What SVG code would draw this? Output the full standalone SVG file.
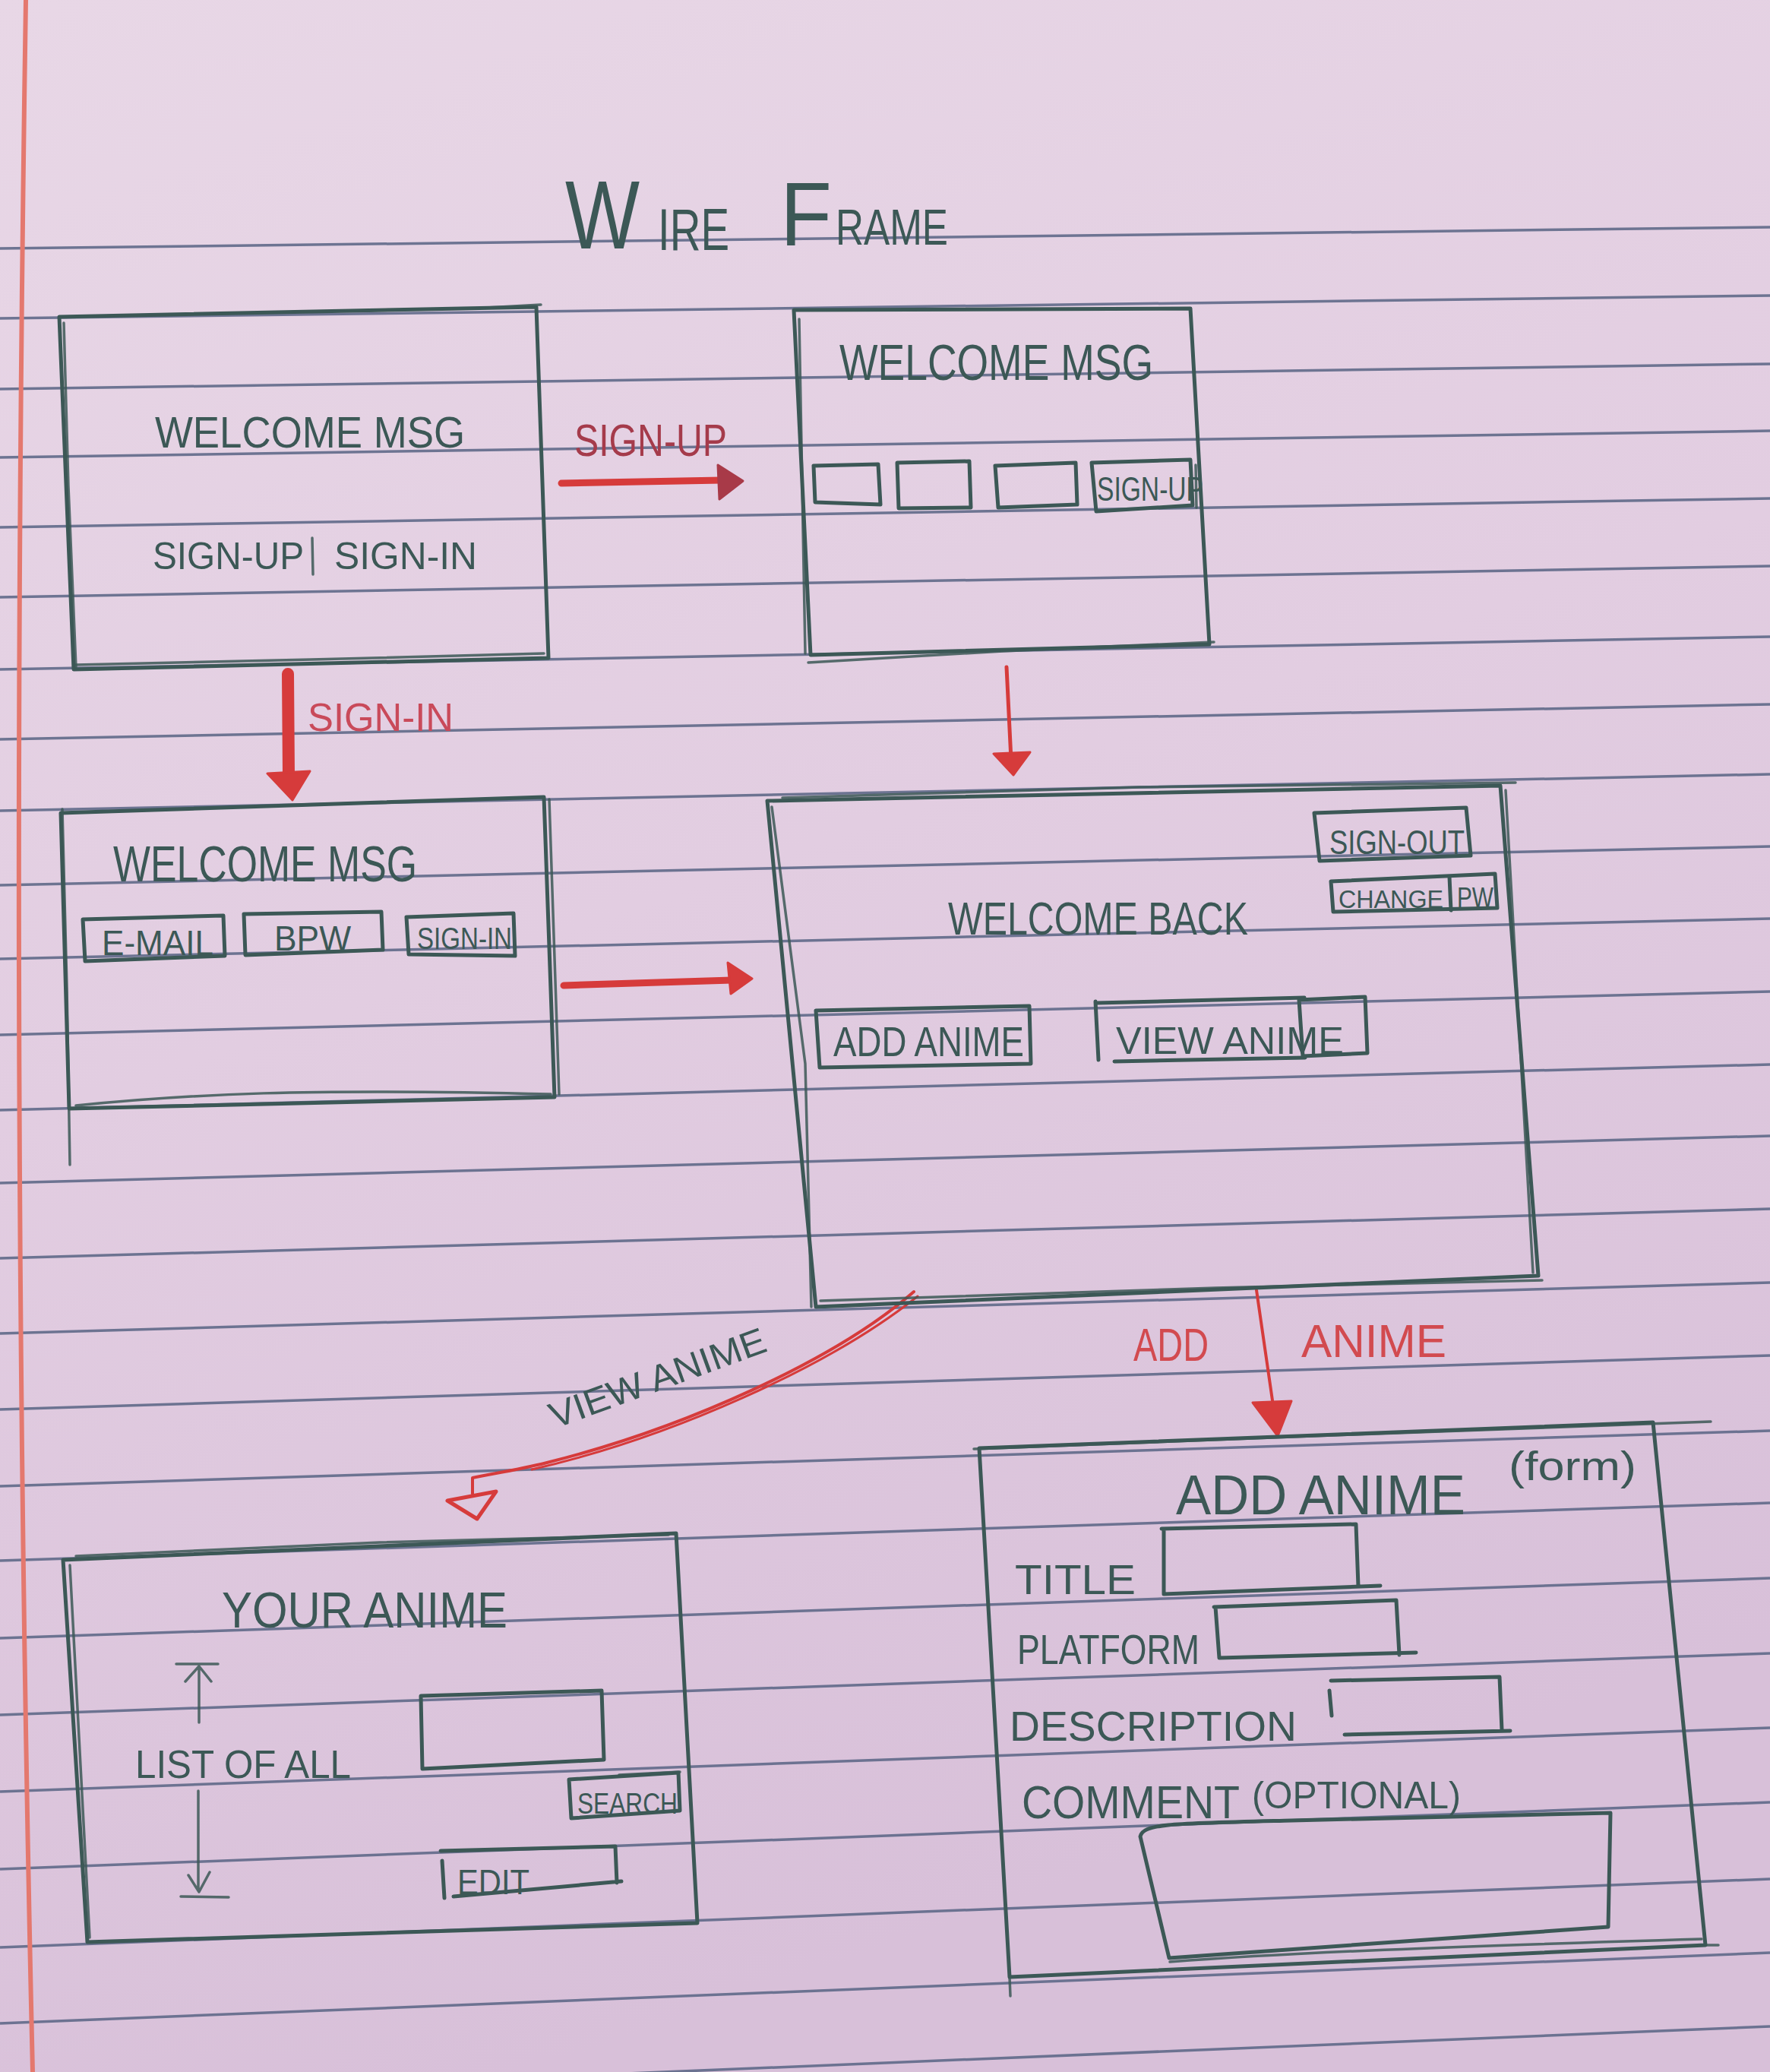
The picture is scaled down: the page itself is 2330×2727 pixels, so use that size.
<svg xmlns="http://www.w3.org/2000/svg" width="2330" height="2727" viewBox="0 0 2330 2727">
<defs>
<linearGradient id="paperGrad" x1="0" y1="0" x2="0.3" y2="1">
<stop offset="0" stop-color="#e8d7e6"/>
<stop offset="0.5" stop-color="#e2cde1"/>
<stop offset="1" stop-color="#d8c0d9"/>
</linearGradient>
<style>
.rule{fill:none;stroke:#5f6988;stroke-width:3.5;opacity:0.9}
.ink{fill:none;stroke:#3c5856;stroke-width:5;stroke-linecap:round;stroke-linejoin:round}
.ink2{fill:none;stroke:#3c5856;stroke-width:3.5;stroke-linecap:round;stroke-linejoin:round;opacity:0.85}
.t{font-family:"Liberation Sans","DejaVu Sans",sans-serif;fill:#3c5856}
.redline{fill:none;stroke:#d63b3b;stroke-linecap:round;stroke-linejoin:round}
.redfill{fill:#d63b3b;stroke:#d63b3b;stroke-width:3;stroke-linejoin:round}
.rt{font-family:"Liberation Sans","DejaVu Sans",sans-serif;fill:#d24a4f}
</style>
</defs>

<g id="paper">
<rect x="0" y="0" width="2330" height="2727" fill="url(#paperGrad)"/>
<path class="rule" d="M0 327 L2330 299"/>
<path class="rule" d="M0 419 L2330 389"/>
<path class="rule" d="M0 512 L2330 479"/>
<path class="rule" d="M0 602 L2330 567"/>
<path class="rule" d="M0 694 L2330 656"/>
<path class="rule" d="M0 786 L2330 745"/>
<path class="rule" d="M0 881 L2330 838"/>
<path class="rule" d="M0 973 L2330 927"/>
<path class="rule" d="M0 1067 L2330 1019"/>
<path class="rule" d="M0 1165 L2330 1114"/>
<path class="rule" d="M0 1262 L2330 1209"/>
<path class="rule" d="M0 1362 L2330 1305"/>
<path class="rule" d="M0 1461 L2330 1401"/>
<path class="rule" d="M0 1557 L2330 1495"/>
<path class="rule" d="M0 1656 L2330 1591"/>
<path class="rule" d="M0 1755 L2330 1688"/>
<path class="rule" d="M0 1855 L2330 1784"/>
<path class="rule" d="M0 1956 L2330 1883"/>
<path class="rule" d="M0 2054 L2330 1978"/>
<path class="rule" d="M0 2156 L2330 2077"/>
<path class="rule" d="M0 2257 L2330 2176"/>
<path class="rule" d="M0 2358 L2330 2274"/>
<path class="rule" d="M0 2460 L2330 2372"/>
<path class="rule" d="M0 2563 L2330 2473"/>
<path class="rule" d="M0 2663 L2330 2570"/>
<path class="rule" d="M0 2763 L2330 2667"/>
<path d="M34 0 Q 12 1400 43 2727" fill="none" stroke="#e4786e" stroke-width="6"/>
</g>

<g id="title">
<text class="t"><tspan x="744" y="327" font-size="128" textLength="98" lengthAdjust="spacingAndGlyphs">W</tspan><tspan x="866" y="329" font-size="77" textLength="94" lengthAdjust="spacingAndGlyphs">IRE</tspan><tspan x="1027" y="323" font-size="118" textLength="68" lengthAdjust="spacingAndGlyphs">F</tspan><tspan x="1100" y="322" font-size="66" textLength="148" lengthAdjust="spacingAndGlyphs">RAME</tspan></text>
</g>

<g id="connectors">
<g id="edge-signup">
<path class="redline" d="M739 636 L950 632" stroke="#a83a48" stroke-width="9"/>
<path d="M945 612 L978 633 L947 657 Z" fill="#a83a48" stroke="#a83a48" stroke-width="3" stroke-linejoin="round"/>
<text class="rt" x="756" y="600" font-size="60" textLength="201" lengthAdjust="spacingAndGlyphs" style="fill:#a53b4b">SIGN-UP</text>
</g>
<g id="edge-signin">
<path class="redline" d="M379 887 L380 1020" stroke-width="16"/>
<path class="redfill" d="M352 1018 L408 1015 L385 1053 Z"/>
<text class="rt" x="405" y="962" font-size="52" textLength="192" lengthAdjust="spacingAndGlyphs" style="fill:#c94a5a">SIGN-IN</text>
</g>
<g id="edge-signupform-dashboard">
<path class="redline" d="M1325 878 L1331 1000" stroke-width="5"/>
<path class="redfill" d="M1308 992 L1356 990 L1334 1020 Z"/>
</g>
<g id="edge-signinform-dashboard">
<path class="redline" d="M742 1297 L963 1290" stroke-width="9"/>
<path class="redfill" d="M958 1267 L990 1288 L962 1308 Z"/>
</g>
<g id="edge-view-anime">
<path class="redline" d="M1203 1700 C1100 1790 900 1880 720 1925 C680 1935 645 1940 622 1945 L622 1966" stroke-width="4"/>
<path class="redline" d="M1208 1706 C1090 1800 880 1893 700 1934" stroke-width="3"/>
<path class="redline" d="M589 1975 L653 1963 L628 1999 Z" stroke-width="5"/>
<text class="t" x="866" y="1830" font-size="48" text-anchor="middle" textLength="300" lengthAdjust="spacingAndGlyphs" transform="rotate(-20 866 1815)">VIEW ANIME</text>
</g>
<g id="edge-add-anime">
<path class="redline" d="M1654 1698 L1676 1850" stroke-width="4"/>
<path class="redfill" d="M1649 1846 L1700 1844 L1682 1890 Z"/>
<text class="rt" x="1492" y="1791" font-size="62" textLength="99" lengthAdjust="spacingAndGlyphs">ADD</text>
<text class="rt" x="1713" y="1786" font-size="62" textLength="191" lengthAdjust="spacingAndGlyphs">ANIME</text>
</g>
</g>

<g id="node-welcome">
<path class="ink" d="M78 417 L706 404 L722 866 L97 881 Z"/>
<path class="ink2" d="M84 425 L90 640 L100 878"/>
<path class="ink2" d="M100 875 L410 868 L716 860"/>
<path class="ink2" d="M640 405 L712 401"/>
<text class="t" x="204" y="589" font-size="58" textLength="408" lengthAdjust="spacingAndGlyphs">WELCOME MSG</text>
<text class="t" x="201" y="749" font-size="50" textLength="199" lengthAdjust="spacingAndGlyphs">SIGN-UP</text>
<path class="ink2" d="M411 708 L412 756"/>
<text class="t" x="440" y="749" font-size="50" textLength="188" lengthAdjust="spacingAndGlyphs">SIGN-IN</text>
</g>

<g id="node-signup-form">
<path class="ink" d="M1045 408 L1567 406 L1592 848 L1067 862 Z"/>
<path class="ink2" d="M1052 420 L1060 860"/>
<path class="ink2" d="M1064 872 L1320 857 L1598 845"/>
<text class="t" x="1105" y="500" font-size="66" textLength="413" lengthAdjust="spacingAndGlyphs">WELCOME MSG</text>
<path class="ink" d="M1071 613 L1156 611 L1159 664 L1073 661 Z"/>
<path class="ink" d="M1181 609 L1276 607 L1278 668 L1183 669 Z"/>
<path class="ink" d="M1310 613 L1416 609 L1418 664 L1314 668 Z"/>
<path class="ink" d="M1437 609 L1567 605 L1570 665 L1443 673 Z"/>
<path class="ink2" d="M1574 612 L1575 668"/>
<text class="t" x="1444" y="659" font-size="44" textLength="140" lengthAdjust="spacingAndGlyphs">SIGN-UP</text>
</g>

<g id="node-signin-form">
<path class="ink" d="M80 1070 L716 1049 L730 1444 L91 1459 Z"/>
<path class="ink2" d="M82 1065 L88 1300 L92 1533"/>
<path class="ink2" d="M723 1052 L736 1440"/>
<path class="ink2" d="M100 1455 C250 1440 400 1432 725 1440"/>
<text class="t" x="149" y="1160" font-size="66" textLength="400" lengthAdjust="spacingAndGlyphs">WELCOME MSG</text>
<path class="ink" d="M109 1210 L294 1205 L296 1258 L112 1265 Z"/>
<text class="t" x="134" y="1257" font-size="46" textLength="147" lengthAdjust="spacingAndGlyphs">E-MAIL</text>
<path class="ink" d="M321 1203 L502 1200 L504 1250 L323 1257 Z"/>
<text class="t" x="361" y="1251" font-size="46" textLength="101" lengthAdjust="spacingAndGlyphs">BPW</text>
<path class="ink" d="M535 1207 L676 1202 L678 1258 L538 1256 Z"/>
<text class="t" x="549" y="1249" font-size="40" textLength="125" lengthAdjust="spacingAndGlyphs">SIGN-IN</text>
</g>

<g id="node-dashboard">
<path class="ink" d="M1010 1054 L1975 1034 L2025 1679 L1074 1720 Z"/>
<path class="ink2" d="M1016 1062 L1060 1400 L1068 1720"/>
<path class="ink2" d="M1030 1050 L1500 1036 L1995 1030"/>
<path class="ink2" d="M1080 1712 L1600 1695 L2030 1685"/>
<path class="ink2" d="M1982 1040 L2018 1675"/>
<path class="ink" d="M1730 1070 L1930 1063 L1936 1126 L1737 1133 Z"/>
<text class="t" x="1750" y="1124" font-size="44" textLength="178" lengthAdjust="spacingAndGlyphs">SIGN-OUT</text>
<path class="ink" d="M1752 1160 L1968 1150 L1971 1195 L1755 1200 Z"/>
<path class="ink" d="M1908 1154 L1910 1198"/>
<text class="t" x="1762" y="1195" font-size="33" textLength="138" lengthAdjust="spacingAndGlyphs">CHANGE</text>
<text class="t" x="1918" y="1194" font-size="36" textLength="48" lengthAdjust="spacingAndGlyphs">PW</text>
<text class="t" x="1248" y="1230" font-size="62" textLength="395" lengthAdjust="spacingAndGlyphs">WELCOME BACK</text>
<path class="ink" d="M1074 1330 L1355 1324 L1357 1400 L1079 1405 Z"/>
<text class="t" x="1097" y="1390" font-size="56" textLength="251" lengthAdjust="spacingAndGlyphs">ADD ANIME</text>
<path class="ink" d="M1442 1318 L1446 1395 M1444 1320 L1717 1313 M1467 1397 L1718 1392"/>
<path class="ink" d="M1710 1316 L1797 1312 L1800 1386 L1715 1390 Z"/>
<text class="t" x="1469" y="1387" font-size="50" textLength="300" lengthAdjust="spacingAndGlyphs">VIEW ANIME</text>
</g>

<g id="node-your-anime">
<path class="ink" d="M83 2053 L890 2018 L918 2531 L115 2556 Z"/>
<path class="ink2" d="M92 2060 L118 2550"/>
<path class="ink2" d="M100 2048 L500 2030 L880 2020"/>
<text class="t" x="292" y="2142" font-size="66" textLength="376" lengthAdjust="spacingAndGlyphs">YOUR ANIME</text>
<path class="ink2" d="M232 2190 L287 2190 M262 2193 L262 2267 M244 2213 L262 2193 L278 2213"/>
<text class="t" x="178" y="2340" font-size="52" textLength="284" lengthAdjust="spacingAndGlyphs">LIST OF ALL</text>
<path class="ink2" d="M261 2357 L261 2488 M248 2468 L262 2490 L276 2464 M238 2496 L301 2497"/>
<path class="ink" d="M554 2232 L792 2225 L795 2316 L556 2328 Z"/>
<path class="ink" d="M749 2342 L893 2333 L895 2383 L752 2393 Z"/>
<path class="ink2" d="M815 2336 L895 2332"/>
<text class="t" x="760" y="2387" font-size="38" textLength="132" lengthAdjust="spacingAndGlyphs">SEARCH</text>
<path class="ink" d="M582 2449 L585 2498 M580 2436 L810 2430 L812 2478 M597 2496 L818 2476"/>
<text class="t" x="602" y="2493" font-size="46" textLength="95" lengthAdjust="spacingAndGlyphs">EDIT</text>
</g>

<g id="node-add-anime-form">
<path class="ink" d="M1289 1906 L2176 1872 L2245 2560 L1329 2602 Z"/>
<path class="ink2" d="M1282 1907 L1700 1891 L2252 1871"/>
<path class="ink2" d="M1329 2602 L1330 2627 M2245 2560 L2262 2560"/>
<text class="t" x="1548" y="1993" font-size="74" textLength="381" lengthAdjust="spacingAndGlyphs">ADD ANIME</text>
<text class="t" x="1986" y="1948" font-size="54" textLength="168" lengthAdjust="spacingAndGlyphs">(form)</text>
<text class="t" x="1336" y="2098" font-size="56" textLength="159" lengthAdjust="spacingAndGlyphs">TITLE</text>
<path class="ink" d="M1529 2012 L1785 2006 L1788 2088 M1532 2012 L1532 2098 L1817 2087"/>
<text class="t" x="1339" y="2190" font-size="56" textLength="240" lengthAdjust="spacingAndGlyphs">PLATFORM</text>
<path class="ink" d="M1598 2115 L1838 2106 L1842 2178 M1600 2115 L1605 2182 L1864 2175"/>
<text class="t" x="1329" y="2291" font-size="56" textLength="378" lengthAdjust="spacingAndGlyphs">DESCRIPTION</text>
<path class="ink" d="M1752 2212 L1974 2207 L1977 2277 M1770 2283 L1988 2278 M1750 2225 L1753 2258"/>
<text class="t" x="1345" y="2393" font-size="62" textLength="287" lengthAdjust="spacingAndGlyphs">COMMENT</text>
<text class="t" x="1648" y="2380" font-size="50" textLength="275" lengthAdjust="spacingAndGlyphs">(OPTIONAL)</text>
<path class="ink" d="M1501 2417 C1505 2400 1540 2400 1700 2396 L2120 2386 L2117 2536 L1539 2577 Z"/>
<path class="ink2" d="M1540 2582 C1700 2570 1900 2562 2240 2552"/>
</g>
</svg>
